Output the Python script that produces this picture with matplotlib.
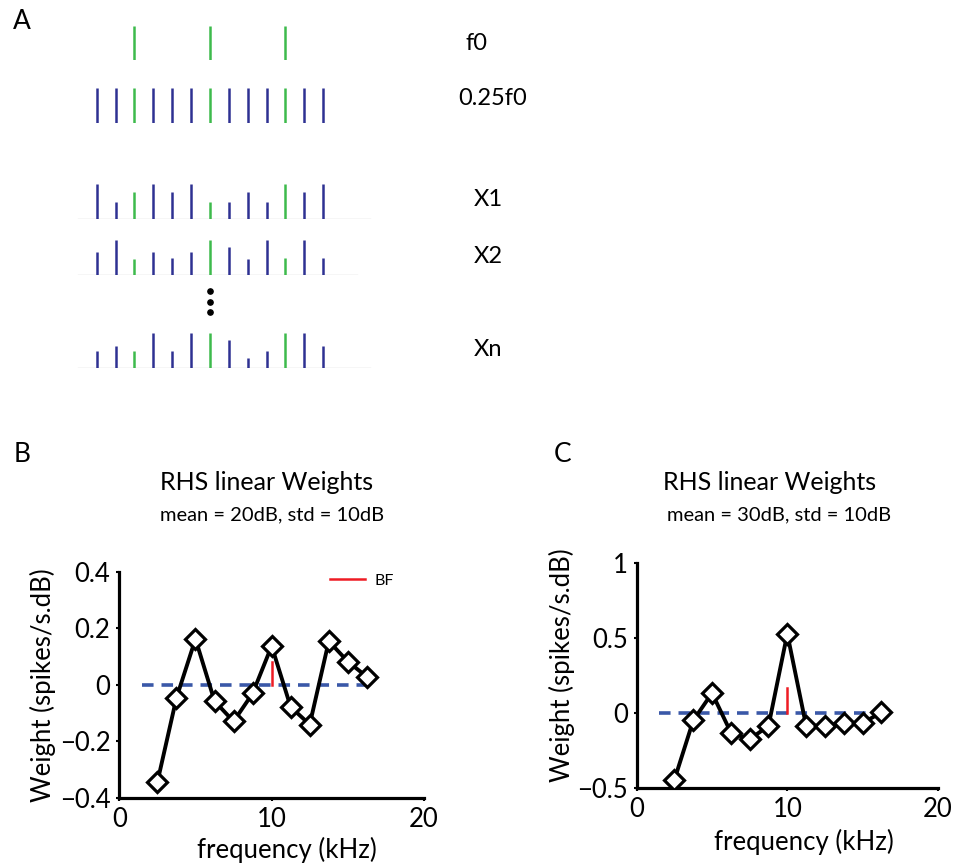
import numpy as np
import matplotlib
matplotlib.use("Agg")
import matplotlib.pyplot as plt

plt.rcParams['font.family'] = ['Lato', 'DejaVu Sans']
plt.rcParams['axes.unicode_minus'] = True

# =========================
# data
# =========================
# panel A: harmonic index in units of 0.25 f0
harm_idx = np.arange(1, 14)
f0_idx = [3, 7, 11]
x1_amp = [1.0, 0.49, 0.77, 1.0, 0.77, 1.0, 0.49, 0.49, 0.77, 0.49, 1.0, 0.77, 1.0]
x2_amp = [0.66, 1.0, 0.46, 0.66, 0.49, 0.66, 1.0, 0.80, 0.46, 1.0, 0.49, 1.0, 0.49]
xn_amp = [0.49, 0.63, 0.49, 1.0, 0.49, 1.0, 1.0, 0.80, 0.29, 0.49, 1.0, 1.0, 0.63]

# panels B / C: linear weights
freq_khz = [2.5, 3.75, 5.0, 6.25, 7.5, 8.75, 10.0, 11.25, 12.5, 13.75, 15.0, 16.25]
w_b = [-0.345, -0.047, 0.162, -0.058, -0.130, -0.031, 0.137, -0.079, -0.141, 0.154, 0.082, 0.028]
w_c = [-0.443, -0.049, 0.133, -0.129, -0.173, -0.086, 0.528, -0.084, -0.084, -0.069, -0.066, 0.004]
bf_khz = 10.0
bf_tick_b = 0.08
bf_tick_c = 0.164
zero_span = [1.5, 16.5]
yticks_b = [-0.4, -0.2, 0, 0.2, 0.4]
yticklabels_b = ['\u22120.4', '\u22120.2', '0', '0.2', '0.4']
yticks_c = [-0.5, 0, 0.5, 1]
yticklabels_c = ['\u22120.5', '0', '0.5', '1']

BLUE = '#2e3192'
GREEN = '#3dba4c'
DASH = '#3a58a8'

W, H = 959, 866
fig = plt.figure(figsize=(W / 100, H / 100), dpi=100)


def px_axes(left, top, width, height):
    return fig.add_axes([left / W, 1 - (top + height) / H, width / W, height / H])


# =========================
# panel A
# =========================
k_per_px = 1 / 18.88
xlim_a = (-77.8 * k_per_px, (W - 77.8) * k_per_px)
row_h = 35


def harm_row(baseline_px, xs, amps, colors, base_end=None):
    ax = px_axes(0, baseline_px - row_h, W, row_h)
    ax.set_xlim(*xlim_a)
    ax.set_ylim(0, 1)
    ax.axis('off')
    ax.vlines(xs, 0, amps, colors=colors, lw=1.8)
    if base_end is not None:
        ax.plot([0, base_end], [0, 0], color='#d4d4d4', lw=1.0, zorder=0)
    return ax


cols = [GREEN if k in f0_idx else BLUE for k in harm_idx]
harm_row(60, f0_idx, [0.97] * 3, GREEN)
harm_row(122.7, harm_idx, [0.98] * 13, cols)
harm_row(219.3, harm_idx, x1_amp, cols, 15.5)
ax_x2 = harm_row(275, harm_idx, x2_amp, cols, 14.8)
harm_row(368.3, harm_idx, xn_amp, cols, 15.5)
ax_x2.plot([7, 7, 7], [-0.46, -0.77, -1.06], 'o', color='black', ms=3.8, clip_on=False)

lab_fs = 17
fig.text(465.7 / W, 1 - 43.3 / H, 'f0', fontsize=lab_fs, ha='left', va='center')
fig.text(458.3 / W, 1 - 98.3 / H, '0.25f0', fontsize=lab_fs, ha='left', va='center')
fig.text(473.3 / W, 1 - 200 / H, 'X1', fontsize=lab_fs, ha='left', va='center')
fig.text(473.3 / W, 1 - 256.7 / H, 'X2', fontsize=lab_fs, ha='left', va='center')
fig.text(473.3 / W, 1 - 350 / H, 'Xn', fontsize=lab_fs, ha='left', va='center')

fig.text(21.7 / W, 1 - 21.7 / H, 'A', fontsize=19, ha='center', va='center')
fig.text(21.7 / W, 1 - 455 / H, 'B', fontsize=19, ha='center', va='center')
fig.text(563 / W, 1 - 455 / H, 'C', fontsize=19, ha='center', va='center')


# =========================
# panels B / C
# =========================
def weight_panel(ax, w, bf_top, ylim, yticks, yticklabels, subtitle, title_x, sub_x,
                 xl_coords, yl_coords):
    ax.plot(zero_span, [0, 0], color=DASH, lw=2.6, linestyle=(0, (3.2, 2.2)), zorder=1)
    ax.plot([bf_khz, bf_khz], [0, bf_top], color='#ee1c24', lw=1.8, zorder=2, label='BF')
    ax.plot(freq_khz, w, color='black', lw=2.8, marker='D', ms=10,
            mfc='white', mec='black', mew=2.3, zorder=3)
    ax.set_xlim(0, 20)
    ax.set_ylim(*ylim)
    ax.set_xticks([0, 10, 20])
    ax.set_yticks(yticks)
    ax.set_yticklabels(yticklabels)
    ax.spines['top'].set_visible(False)
    ax.spines['right'].set_visible(False)
    for s in ['left', 'bottom']:
        ax.spines[s].set_linewidth(2.3)
    ax.tick_params(labelsize=18.5, width=1.5, length=2.5, pad=4, direction='out')
    ax.set_xlabel('frequency (kHz)', fontsize=18.5, va='center')
    ax.set_ylabel('Weight (spikes/s.dB)', fontsize=18.5, va='center')
    ax.xaxis.set_label_coords(*xl_coords)
    ax.yaxis.set_label_coords(*yl_coords)
    fig.text(title_x / W, 1 - 483 / H, 'RHS linear Weights', fontsize=18, ha='center', va='center')
    fig.text(sub_x / W, 1 - 515 / H, subtitle, fontsize=14.5, ha='center', va='center')


ax_b = px_axes(119.3, 571.7, 304.7, 226)
weight_panel(ax_b, w_b, bf_tick_b, (-0.4, 0.4), yticks_b, yticklabels_b,
             'mean = 20dB, std = 10dB', 266.7, 271.7, (0.549, -0.231), (-0.25, 0.5))
ax_b.legend(loc='center left', bbox_to_anchor=(0.69, 0.96), frameon=False,
            fontsize=11.5, handlelength=2.2, handletextpad=0.6, borderpad=0, borderaxespad=0)

ax_c = px_axes(636.8, 562.7, 301, 225.6)
weight_panel(ax_c, w_c, bf_tick_c, (-0.5, 1), yticks_c, yticklabels_c,
             'mean = 30dB, std = 10dB', 770, 779, (0.555, -0.237), (-0.25, 0.547))

fig.savefig('out.png', dpi=100)
